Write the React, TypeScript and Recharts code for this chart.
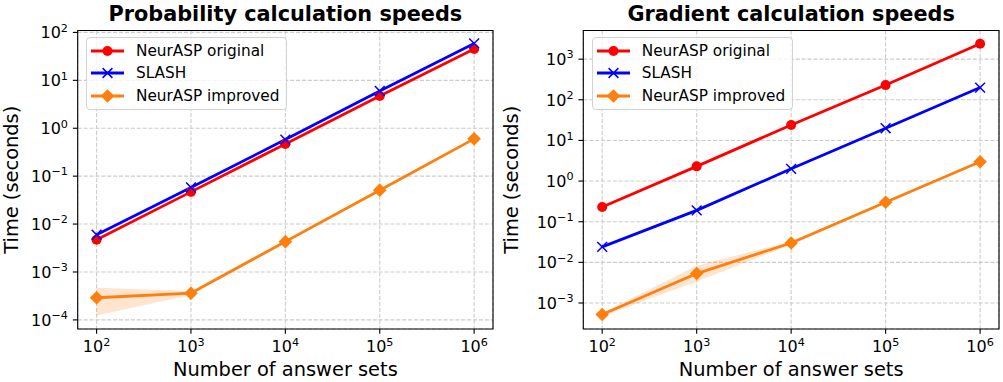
import React from "react";
import {
  ComposedChart,
  Line,
  Area,
  XAxis,
  YAxis,
  CartesianGrid,
  Legend,
  Label,
  ReferenceArea,
} from "recharts";

// x values: number of answer sets
const answerSets = [1e2, 1e3, 1e4, 1e5, 1e6];

// Probability calculation speeds (seconds)
const probOriginal = [0.0047, 0.047, 0.47, 4.7, 45];
const probSlash = [0.006, 0.058, 0.58, 6.0, 59];
const probImproved = [0.00029, 0.00036, 0.0043, 0.051, 0.6];
const probImprovedLow = [0.000123, 0.00033, 0.004, 0.049, 0.58];
const probImprovedHigh = [0.00047, 0.0004, 0.0047, 0.053, 0.62];

// Gradient calculation speeds (seconds)
const gradOriginal = [0.23, 2.3, 24, 230, 2400];
const gradSlash = [0.024, 0.19, 2.0, 20, 200];
const gradImproved = [0.00052, 0.0053, 0.03, 0.3, 3.0];
const gradImprovedLow = [0.00047, 0.0034, 0.027, 0.28, 2.85];
const gradImprovedHigh = [0.00057, 0.0082, 0.033, 0.32, 3.15];

// major tick values
const xMajorTicks = [1e2, 1e3, 1e4, 1e5, 1e6];
const probYTicks = [1e-4, 1e-3, 1e-2, 1e-1, 1, 10, 100];
const gradYTicks = [1e-3, 1e-2, 1e-1, 1, 10, 100, 1000];

const seriesNames = ["NeurASP original", "SLASH", "NeurASP improved"];

const RED = "#ff0000";
const BLUE = "#0000ff";
const ORANGE = "#ff7f0e";
const FONT = '"DejaVu Sans", sans-serif';
const LINE_W = 2.78;
const TICK_FONT = 16;
const SUP_FONT = 11.2;

const xDomain = [Math.pow(10, 1.8), Math.pow(10, 6.2)];
const probYDomain = [Math.pow(10, -4.19), Math.pow(10, 2.04)];
const gradYDomain = [Math.pow(10, -3.64), Math.pow(10, 3.705)];

function minorTicks(lo: number, hi: number) {
  const out: number[] = [];
  for (let d = Math.floor(Math.log10(lo)); d <= Math.ceil(Math.log10(hi)); d++) {
    for (let k = 2; k <= 9; k++) {
      const v = k * Math.pow(10, d);
      if (v >= lo && v <= hi) out.push(v);
    }
  }
  return out;
}

function expText(v: number) {
  const e = Math.round(Math.log10(v));
  return e < 0 ? "\u2212" + -e : String(e);
}

const XTick = ({ x, y, payload }: any) => (
  <text x={x} y={y + 18.5} textAnchor="middle" fontFamily={FONT} fontSize={TICK_FONT} fill="#000">
    10
    <tspan dy={-6.5} fontSize={SUP_FONT}>
      {expText(payload.value)}
    </tspan>
  </text>
);

const YTick = ({ x, y, payload }: any) => (
  <text x={x - 4.9} y={y + 5.8} textAnchor="end" fontFamily={FONT} fontSize={TICK_FONT} fill="#000">
    10
    <tspan dy={-6.5} fontSize={SUP_FONT}>
      {expText(payload.value)}
    </tspan>
  </text>
);

// minor ticks get a tick mark but no label
const NoLabel = () => <g />;

// markers
const circleMark = (cx: number, cy: number, key?: string) => (
  <circle key={key} cx={cx} cy={cy} r={5} fill={RED} />
);
const crossMark = (cx: number, cy: number, key?: string) => (
  <g key={key}>
    <line x1={cx - 4.9} y1={cy - 4.9} x2={cx + 4.9} y2={cy + 4.9} stroke={BLUE} strokeWidth={1.5} />
    <line x1={cx - 4.9} y1={cy + 4.9} x2={cx + 4.9} y2={cy - 4.9} stroke={BLUE} strokeWidth={1.5} />
  </g>
);
const diamondMark = (cx: number, cy: number, key?: string) => (
  <polygon
    key={key}
    points={`${cx},${cy - 6.8} ${cx + 6.8},${cy} ${cx},${cy + 6.8} ${cx - 6.8},${cy}`}
    fill={ORANGE}
  />
);

const markers = [circleMark, crossMark, diamondMark];
const colors = [RED, BLUE, ORANGE];

const LegendBox = () => (
  <div
    style={{
      width: 201,
      height: 73,
      boxSizing: "border-box",
      border: "1px solid #d3d3d3",
      borderRadius: 4,
      background: "rgba(255,255,255,0.8)",
      paddingTop: 1.6,
      fontFamily: FONT,
      fontSize: 15.3,
      color: "#000",
    }}
  >
    {seriesNames.map((name, i) => (
      <div key={name} style={{ display: "flex", alignItems: "center", height: 22.6 }}>
        <svg width={49} height={22} style={{ display: "block", flexShrink: 0 }}>
          <line x1={4} x2={37} y1={11} y2={11} stroke={colors[i]} strokeWidth={LINE_W} />
          {markers[i](20.5, 11)}
        </svg>
        <span style={{ whiteSpace: "nowrap" }}>{name}</span>
      </div>
    ))}
  </div>
);

interface PanelProps {
  left: number;
  width: number;
  title: string;
  original: number[];
  slash: number[];
  improved: number[];
  low: number[];
  high: number[];
  yDomain: number[];
  yTicks: number[];
  yAxisWidth: number;
  marginRight: number;
  legendLeft: number;
  yLabelX: number;
}

function Panel(p: PanelProps) {
  const rows = answerSets.map((n, i) => ({
    n,
    original: p.original[i],
    slash: p.slash[i],
    improved: p.improved[i],
    band: [p.low[i], p.high[i]],
  }));
  const plotW = p.width - p.yAxisWidth - p.marginRight;

  return (
    <div style={{ position: "absolute", left: p.left, top: 0, width: p.width, height: 382 }}>
      <div
        style={{
          position: "absolute",
          left: p.yAxisWidth,
          top: 4,
          width: plotW,
          textAlign: "center",
          fontFamily: FONT,
          fontSize: 20.8,
          fontWeight: "bold",
          lineHeight: "21px",
          whiteSpace: "nowrap",
        }}
      >
        {p.title}
      </div>
      <ComposedChart
        width={p.width}
        height={382}
        data={rows}
        margin={{ top: 30.5, right: p.marginRight, left: 0, bottom: 0 }}
      >
        {/* minor tick axes, sitting right against the plot */}
        <XAxis
          xAxisId="minor"
          dataKey="n"
          type="number"
          scale="log"
          domain={xDomain}
          allowDataOverflow
          ticks={minorTicks(xDomain[0], xDomain[1])}
          interval={0}
          tick={NoLabel}
          tickSize={2.78}
          tickLine={{ stroke: "#000", strokeWidth: 0.83 }}
          axisLine={false}
          height={0}
        />
        <YAxis
          yAxisId="minor"
          type="number"
          scale="log"
          domain={p.yDomain}
          allowDataOverflow
          ticks={minorTicks(p.yDomain[0], p.yDomain[1])}
          interval={0}
          tick={NoLabel}
          tickSize={2.78}
          tickLine={{ stroke: "#000", strokeWidth: 0.83 }}
          axisLine={false}
          width={0}
        />
        <XAxis
          dataKey="n"
          type="number"
          scale="log"
          domain={xDomain}
          allowDataOverflow
          ticks={xMajorTicks}
          interval={0}
          tick={<XTick />}
          tickSize={4.86}
          tickMargin={0}
          tickLine={{ stroke: "#000", strokeWidth: 1.11 }}
          axisLine={false}
          height={53}
        >
          <Label
            content={({ viewBox }: any) => (
              <text
                x={viewBox.x + viewBox.width / 2}
                y={viewBox.y + 47}
                textAnchor="middle"
                fontFamily={FONT}
                fontSize={19.4}
                fill="#000"
              >
                Number of answer sets
              </text>
            )}
          />
        </XAxis>
        <YAxis
          type="number"
          scale="log"
          domain={p.yDomain}
          allowDataOverflow
          ticks={p.yTicks}
          interval={0}
          tick={<YTick />}
          tickSize={4.86}
          tickMargin={0}
          tickLine={{ stroke: "#000", strokeWidth: 1.11 }}
          axisLine={false}
          width={p.yAxisWidth}
        >
          <Label
            content={({ viewBox }: any) => {
              const cx = p.yLabelX;
              const cy = viewBox.y + viewBox.height / 2;
              return (
                <text
                  x={cx}
                  y={cy}
                  transform={`rotate(-90, ${cx}, ${cy})`}
                  textAnchor="middle"
                  fontFamily={FONT}
                  fontSize={19.4}
                  fill="#000"
                >
                  Time (seconds)
                </text>
              );
            }}
          />
        </YAxis>
        <CartesianGrid stroke="#cccccc" strokeWidth={1.1} strokeDasharray="4.1 1.8" />
        <Area
          dataKey="band"
          type="linear"
          stroke="none"
          fill={ORANGE}
          fillOpacity={0.2}
          isAnimationActive={false}
        />
        <Line
          dataKey="original"
          type="linear"
          stroke={RED}
          strokeWidth={LINE_W}
          dot={(d: any) => circleMark(d.cx, d.cy, `o-${d.index}`)}
          isAnimationActive={false}
        />
        <Line
          dataKey="slash"
          type="linear"
          stroke={BLUE}
          strokeWidth={LINE_W}
          dot={(d: any) => crossMark(d.cx, d.cy, `s-${d.index}`)}
          isAnimationActive={false}
        />
        <Line
          dataKey="improved"
          type="linear"
          stroke={ORANGE}
          strokeWidth={LINE_W}
          dot={(d: any) => diamondMark(d.cx, d.cy, `i-${d.index}`)}
          isAnimationActive={false}
        />
        <ReferenceArea
          x1={xDomain[0]}
          x2={xDomain[1]}
          y1={p.yDomain[0]}
          y2={p.yDomain[1]}
          fill="none"
          stroke="#000"
          strokeWidth={1.11}
          ifOverflow="visible"
        />
        <Legend
          layout="vertical"
          align="center"
          verticalAlign="middle"
          wrapperStyle={{ left: p.legendLeft, top: 37, width: "auto", height: "auto" }}
          content={() => <LegendBox />}
        />
      </ComposedChart>
    </div>
  );
}

export default function App() {
  return (
    <div
      style={{
        position: "absolute",
        left: 0,
        top: 0,
        width: 1003,
        height: 382,
        background: "#fff",
        overflow: "hidden",
      }}
    >
      <Panel
        left={0}
        width={501}
        title="Probability calculation speeds"
        original={probOriginal}
        slash={probSlash}
        improved={probImproved}
        low={probImprovedLow}
        high={probImprovedHigh}
        yDomain={probYDomain}
        yTicks={probYTicks}
        yAxisWidth={77.7}
        marginRight={8}
        legendLeft={86}
        yLabelX={18}
      />
      <Panel
        left={501}
        width={502}
        title="Gradient calculation speeds"
        original={gradOriginal}
        slash={gradSlash}
        improved={gradImproved}
        low={gradImprovedLow}
        high={gradImprovedHigh}
        yDomain={gradYDomain}
        yTicks={gradYTicks}
        yAxisWidth={82.3}
        marginRight={4}
        legendLeft={90.7}
        yLabelX={17}
      />
    </div>
  );
}
